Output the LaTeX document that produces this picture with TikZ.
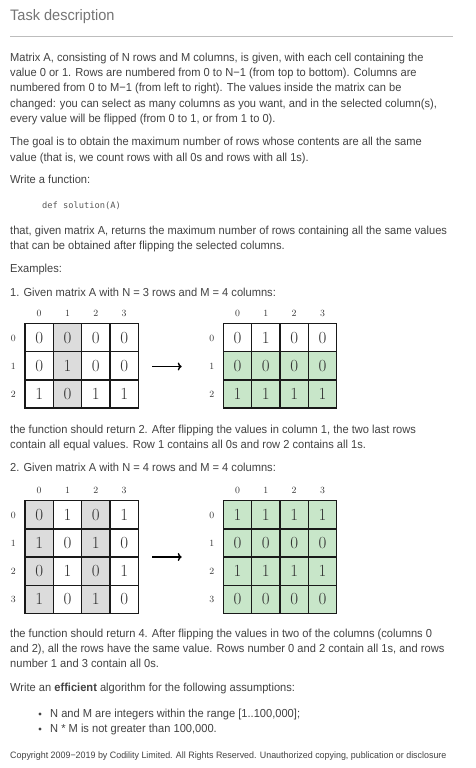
\documentclass[tikz,border=0pt]{standalone}
\usepackage{fontspec}
\usetikzlibrary{arrows.meta}
\setmainfont{Liberation Sans}[FakeStretch=0.957]
\newfontfamily\monofont{DejaVu Sans Mono}
\newfontfamily\cmrfont{Latin Modern Roman}
\definecolor{bodytext}{HTML}{424242}
\definecolor{titletext}{HTML}{757575}
\definecolor{rulegray}{HTML}{BDBDBD}
\definecolor{graycell}{HTML}{DCDCDC}
\definecolor{greencell}{HTML}{C8E6C9}
\begin{document}
\begin{tikzpicture}[x=1pt,y=-1pt,
  txt/.style={anchor=base west, inner sep=0pt, text=bodytext, font=\fontsize{11.6}{13}\selectfont},
  small/.style={anchor=base west, inner sep=0pt, text=bodytext, font=\fontsize{9.3}{11}\selectfont},
  cell/.style={draw=black!90, line width=1.3pt, minimum width=28.33pt, minimum height=28.15pt, inner sep=0pt, font=\cmrfont\fontsize{17}{17}\selectfont, text=black!80},
  lab/.style={inner sep=0pt, font=\cmrfont\fontsize{9.5}{9.5}\selectfont, text=black!80},
  flip/.style={line width=1.4pt, -{Computer Modern Rightarrow[length=4pt,width=8pt]}}
]
\useasboundingbox[fill=white] (0,0) rectangle (475,768);

% title
\node[anchor=base west, inner sep=0pt, text=titletext, font=\fontsize{15.2}{17}\selectfont] (title) at (10,20.7) {Task description};
\coordinate (rl) at (10,36.7);
\coordinate (rr) at (452.7,36.7);
\draw[rulegray, line width=0.8pt] (rl) -- (rr);

% paragraph 1
\node[txt] (p1) at (10,61.5) {Matrix A, consisting of N rows and M columns, is given, with each cell containing the};
\node[txt] (p2) at (10,76.7) {value 0 or 1. Rows are numbered from 0 to N−1 (from top to bottom). Columns are};
\node[txt] (p3) at (10,91.9) {numbered from 0 to M−1 (from left to right). The values inside the matrix can be};
\node[txt] (p4) at (10,107.1) {changed: you can select as many columns as you want, and in the selected column(s),};
\node[txt] (p5) at (10,122.5) {every value will be flipped (from 0 to 1, or from 1 to 0).};
\node[txt] (q1) at (10,145.7) {The goal is to obtain the maximum number of rows whose contents are all the same};
\node[txt] (q2) at (10,161) {value (that is, we count rows with all 0s and rows with all 1s).};
\node[txt] (w1) at (10,183.3) {Write a function:};
\node[anchor=base west, inner sep=0pt, text=black!65, font=\monofont\fontsize{8.7}{10}\selectfont] (code) at (42,208.7) {def solution(A)};
\node[txt] (t1) at (10,234.7) {that, given matrix A, returns the maximum number of rows containing all the same values};
\node[txt] (t2) at (10,249.5) {that can be obtained after flipping the selected columns.};
\node[txt] (ex) at (10,272) {Examples:};
\node[txt] (e1) at (10,296) {1. Given matrix A with N = 3 rows and M = 4 columns:};

% ---- example 1, left matrix
\foreach \c in {0,...,3} \node[lab, anchor=base] (a1c\c) at (39.17+\c*28.33,316.7) {\c};
\foreach \r in {0,...,2} \node[lab] (a1r\r) at (13.3,337.8+\r*28.15+0.5) {\r};
\foreach \row [count=\r from 0] in {{0,0,0,0},{0,1,0,0},{1,0,1,1}} {
  \foreach \v [count=\c from 0] in \row {
    \edef\fc{\ifnum\c=1 graycell\else white\fi}
    \node[cell, fill=\fc] (A-\r-\c) at (39.17+\c*28.33,337.77+\r*28.15) {\v};
  }
}
\coordinate (ar1s) at (152.3,366.5);
\coordinate (ar1e) at (181.7,366.5);
\draw[flip] (ar1s) -- (ar1e);

% ---- example 1, right matrix
\foreach \c in {0,...,3} \node[lab, anchor=base] (b1c\c) at (237.5+\c*28.33,316.7) {\c};
\foreach \r in {0,...,2} \node[lab] (b1r\r) at (211.7,337.8+\r*28.15+0.5) {\r};
\foreach \row [count=\r from 0] in {{0,1,0,0},{0,0,0,0},{1,1,1,1}} {
  \foreach \v [count=\c from 0] in \row {
    \edef\fc{\ifnum\r=0 white\else greencell\fi}
    \node[cell, fill=\fc] (B-\r-\c) at (237.5+\c*28.33,337.77+\r*28.15) {\v};
  }
}

\node[txt] (r1) at (10,433.3) {the function should return 2. After flipping the values in column 1, the two last rows};
\node[txt] (r2) at (10,448) {contain all equal values. Row 1 contains all 0s and row 2 contains all 1s.};
\node[txt] (e2) at (10,471.7) {2. Given matrix A with N = 4 rows and M = 4 columns:};

% ---- example 2, left matrix
\foreach \c in {0,...,3} \node[lab, anchor=base] (a2c\c) at (39.17+\c*28.33,493.3) {\c};
\foreach \r in {0,...,3} \node[lab] (a2r\r) at (13.3,514.8+\r*28.15+0.5) {\r};
\foreach \row [count=\r from 0] in {{0,1,0,1},{1,0,1,0},{0,1,0,1},{1,0,1,0}} {
  \foreach \v [count=\c from 0] in \row {
    \edef\fc{\ifodd\c white\else graycell\fi}
    \node[cell, fill=\fc] (C-\r-\c) at (39.17+\c*28.33,514.77+\r*28.15) {\v};
  }
}
\coordinate (ar2s) at (152.3,557);
\coordinate (ar2e) at (181.7,557);
\draw[flip] (ar2s) -- (ar2e);

% ---- example 2, right matrix
\foreach \c in {0,...,3} \node[lab, anchor=base] (b2c\c) at (237.5+\c*28.33,493.3) {\c};
\foreach \r in {0,...,3} \node[lab] (b2r\r) at (211.7,514.8+\r*28.15+0.5) {\r};
\foreach \row [count=\r from 0] in {{1,1,1,1},{0,0,0,0},{1,1,1,1},{0,0,0,0}} {
  \foreach \v [count=\c from 0] in \row {
    \node[cell, fill=greencell] (D-\r-\c) at (237.5+\c*28.33,514.77+\r*28.15) {\v};
  }
}

\node[txt] (s1) at (10,637.7) {the function should return 4. After flipping the values in two of the columns (columns 0};
\node[txt] (s2) at (10,652.7) {and 2), all the rows have the same value. Rows number 0 and 2 contain all 1s, and rows};
\node[txt] (s3) at (10,667.7) {number 1 and 3 contain all 0s.};
\node[txt] (wa) at (10,691) {Write an \textbf{efficient} algorithm for the following assumptions:};
\fill[bodytext] (40,714) circle (1.6pt);
\fill[bodytext] (40,729) circle (1.6pt);
\node[txt] (b1) at (50,717.7) {N and M are integers within the range [1..100,000];};
\node[txt] (b2) at (50,732.7) {N * M is not greater than 100,000.};
\node[small] (cp) at (10,758.3) {Copyright 2009−2019 by Codility Limited. All Rights Reserved. Unauthorized copying, publication or disclosure};
\end{tikzpicture}
\end{document}
